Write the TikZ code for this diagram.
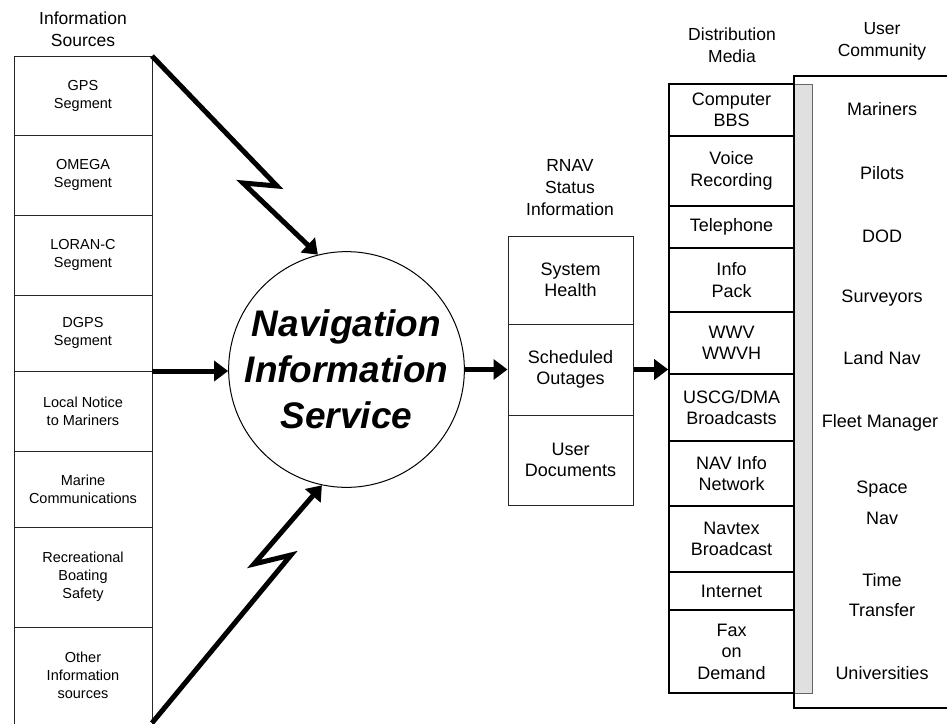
\documentclass[tikz,border=0pt]{standalone}
\usepackage{fontspec}
\setmainfont{Liberation Sans}
\usetikzlibrary{arrows.meta}
\begin{document}
\begin{tikzpicture}[x=1pt,y=-1pt,
  lcbox/.style={draw=black!85, line width=1pt, minimum width=138pt, inner sep=0pt, outer sep=0pt, align=center, font=\fontsize{14.5}{18}\selectfont},
  rbox/.style={draw=black!85, line width=1pt, minimum width=125pt, inner sep=0pt, align=center, font=\fontsize{18}{21.5}\selectfont},
  dbox/.style={draw=black, line width=1.6pt, minimum width=125pt, inner sep=0pt, align=center, font=\fontsize{18}{21.5}\selectfont},
  ttl/.style={align=center, inner sep=0pt, font=\fontsize{17.5}{22}\selectfont},
  usr/.style={align=center, inner sep=0pt, font=\fontsize{18}{21.5}\selectfont},
  bolt/.style={line width=5pt, -{Triangle[length=14pt,width=20pt]}},
]
\useasboundingbox (0,0) rectangle (947,723);

% titles
\node[ttl] (t1) at (83,29) {Information\\Sources};
\node[ttl] (t2) at (570,188) {RNAV\\Status\\Information};
\node[ttl] (t3) at (732,45.5) {Distribution\\Media};
\node[ttl] (t4) at (882,41.5) {User\\Community};

% information sources column
\node[lcbox, minimum height=79pt] (gps) at (83,95.5) {GPS\\Segment};
\node[lcbox, minimum height=80pt] (omega) at (83,175) {OMEGA\\Segment};
\node[lcbox, minimum height=80pt] (loran) at (83,255) {LORAN-C\\Segment};
\node[lcbox, minimum height=76pt] (dgps) at (83,333) {DGPS\\Segment};
\node[lcbox, minimum height=80pt] (lnm) at (83,411) {Local Notice\\to Mariners};
\node[lcbox, minimum height=76pt] (mc) at (83,489) {Marine\\Communications};
\node[lcbox, minimum height=100pt] (rbs) at (83,577) {Recreational\\Boating\\Safety};
\node[lcbox, draw=none, minimum height=96pt] (other) at (83,675) {Other\\Information\\sources};
\draw[draw=black!85, line width=1pt] (rbs.south west) -- ++(0,110);
\draw[draw=black!85, line width=1pt] (rbs.south east) -- ++(0,110);

% central circle
\node[circle, draw, line width=1pt, minimum size=231pt, inner sep=0pt, align=center,
      font=\fontsize{37}{46}\selectfont\bfseries\itshape] (nis) at (346.5,369.5)
      {Navigation\\Information\\Service};

% RNAV status boxes
\node[rbox, minimum height=88pt] (sh) at (570.5,280) {System\\Health};
\node[rbox, minimum height=91pt] (so) at (570.5,369.5) {Scheduled\\Outages};
\node[rbox, minimum height=90pt] (ud) at (570.5,460) {User\\Documents};

% user community box
\draw[line width=1.3pt] (950,76) -- (794,76) -- (794,708) -- (950,708);
% gray strip
\draw[fill=black!12, draw=black!60, line width=0.8pt] (794,84) rectangle (812,693);

% distribution media column
\node[dbox, minimum height=52pt] (d1) at (731.5,110) {Computer\\BBS};
\node[dbox, minimum height=70pt] (d2) at (731.5,171) {Voice\\Recording};
\node[dbox, minimum height=42pt] (d3) at (731.5,227) {Telephone};
\node[dbox, minimum height=64pt] (d4) at (731.5,280) {Info\\Pack};
\node[dbox, minimum height=62pt] (d5) at (731.5,343) {WWV\\WWVH};
\node[dbox, minimum height=67pt] (d6) at (731.5,407.5) {USCG/DMA\\Broadcasts};
\node[dbox, minimum height=65pt] (d7) at (731.5,473.5) {NAV Info\\Network};
\node[dbox, minimum height=66pt] (d8) at (731.5,539) {Navtex\\Broadcast};
\node[dbox, minimum height=38pt] (d9) at (731.5,591) {Internet};
\node[dbox, minimum height=83pt] (d10) at (731.5,651.5) {Fax\\on\\Demand};

% user community
\node[usr] (u1) at (882,109) {Mariners};
\node[usr] (u2) at (882,173) {Pilots};
\node[usr] (u3) at (882,236) {DOD};
\node[usr] (u4) at (882,298) {Surveyors};
\node[usr] (u5) at (882,358) {Land Nav};
\node[usr] (u6) at (880,423) {Fleet Manager};
\node[usr] (u7) at (882,502.5) {Space\\[9.5pt]Nav};
\node[usr] (u8) at (882,595) {Time\\[8.5pt]Transfer};
\node[usr] (u9) at (882,673) {Universities};

% connectors
\draw[bolt] (gps.north east) -- (277,186) -- (243,183) -- (nis.104);
\draw[bolt] (other.south east) -- (291,555) -- (254,564) -- (nis.-102);
\draw[bolt] (dgps.south east) -- (dgps.south east -| nis.west);
\draw[bolt] (nis.east) -- (so.west);
\draw[bolt] (so.east) -- (so.east -| d5.west);
\end{tikzpicture}
\end{document}
